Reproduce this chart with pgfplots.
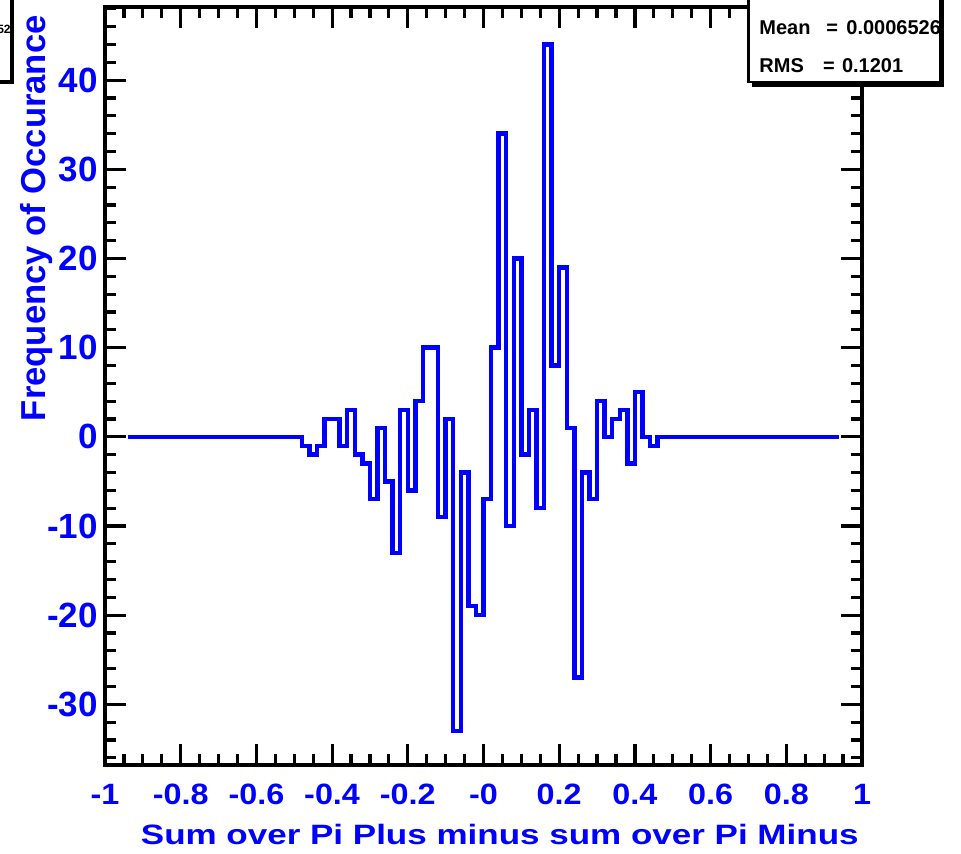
\documentclass[border=0pt]{standalone}
\usepackage{fontspec}
\setmainfont{Liberation Sans}
\newfontfamily\xlabfam[FakeStretch=1.25]{Liberation Sans}
\newfontfamily\xtickfam[FakeStretch=1.1]{Liberation Sans}
\usepackage{pgfplots}
\pgfplotsset{compat=1.18}
\usepackage{pgfplotstable}
\pgfplotstableread{
x y
-0.94 0
-0.92 0
-0.90 0
-0.88 0
-0.86 0
-0.84 0
-0.82 0
-0.80 0
-0.78 0
-0.76 0
-0.74 0
-0.72 0
-0.70 0
-0.68 0
-0.66 0
-0.64 0
-0.62 0
-0.60 0
-0.58 0
-0.56 0
-0.54 0
-0.52 0
-0.50 0
-0.48 -1
-0.46 -2
-0.44 -1
-0.42 2
-0.40 2
-0.38 -1
-0.36 3
-0.34 -2
-0.32 -3
-0.30 -7
-0.28 1
-0.26 -5
-0.24 -13
-0.22 3
-0.20 -6
-0.18 4
-0.16 10
-0.14 10
-0.12 -9
-0.10 2
-0.08 -33
-0.06 -4
-0.04 -19
-0.02 -20
0.00 -7
0.02 10
0.04 34
0.06 -10
0.08 20
0.10 -2
0.12 3
0.14 -8
0.16 44
0.18 8
0.20 19
0.22 1
0.24 -27
0.26 -4
0.28 -7
0.30 4
0.32 0
0.34 2
0.36 3
0.38 -3
0.40 5
0.42 0
0.44 -1
0.46 0
0.48 0
0.50 0
0.52 0
0.54 0
0.56 0
0.58 0
0.60 0
0.62 0
0.64 0
0.66 0
0.68 0
0.70 0
0.72 0
0.74 0
0.76 0
0.78 0
0.80 0
0.82 0
0.84 0
0.86 0
0.88 0
0.90 0
0.92 0
0.94 0
}\histdata
\definecolor{rootblue}{RGB}{0,0,255}
\newcommand\xtf{\xtickfam\bfseries\fontsize{14.7pt}{16pt}\selectfont}
\newcommand\ytf{\bfseries\fontsize{17.5pt}{19pt}\selectfont}
\begin{document}
\begin{tikzpicture}
\path[use as bounding box] (0,0) rectangle (480.5pt,427pt);
\clip (0,0) rectangle (480.5pt,427pt);
\begin{axis}[
  at={(52.5pt,44.5pt)}, anchor=south west,
  scale only axis, width=378.5pt, height=379pt,
  xmin=-1, xmax=1, ymin=-36.8, ymax=48.2,
  axis line style={line width=2pt, black},
  tick align=inside,
  major tick length=10.5pt, minor tick length=5.5pt,
  every tick/.style={black, line width=1.6pt},
  xtick={-1,-0.8,-0.6,-0.4,-0.2,0,0.2,0.4,0.6,0.8,1},
  xticklabels={-1,-0.8,-0.6,-0.4,-0.2,-0,0.2,0.4,0.6,0.8,1},
  minor xtick={-0.95,-0.9,-0.85,-0.75,-0.7,-0.65,-0.55,-0.5,-0.45,-0.35,-0.3,-0.25,-0.15,-0.1,-0.05,0.05,0.1,0.15,0.25,0.3,0.35,0.45,0.5,0.55,0.65,0.7,0.75,0.85,0.9,0.95},
  ytick={-30,-20,-10,0,10,20,30,40},
  yticklabels={-30,-20,-10,0,10,20,30,40},
  minor ytick={-36,-34,-32,-28,-26,-24,-22,-18,-16,-14,-12,-8,-6,-4,-2,2,4,6,8,12,14,16,18,22,24,26,28,32,34,36,38,42,44,46,48},
  xticklabel style={font=\xtf, text=rootblue, anchor=north, inner sep=0pt, yshift=-9.5pt},
  yticklabel style={font=\ytf, text=rootblue, anchor=east, inner sep=0pt, xshift=-3.5pt},
  axis on top,
]
\addplot[const plot mark left, rootblue, line width=2.2pt, line join=miter] table[x=x,y=y] {\histdata};
\end{axis}
% axis titles
\node[font=\xlabfam\bfseries\fontsize{14pt}{16pt}\selectfont, text=rootblue, anchor=base east, inner sep=0pt] at (429.5pt,4.5pt) {Sum over Pi Plus minus sum over Pi Minus};
\node[font=\bfseries\fontsize{17.3pt}{19pt}\selectfont, text=rootblue, anchor=base east, inner sep=0pt, rotate=90] at (22.5pt,419.5pt) {Frequency of Occurance};
% stats box
\fill[black] (376pt,383.5pt) rectangle (472pt,386pt);
\fill[black] (470pt,383.5pt) rectangle (472pt,430pt);
\filldraw[fill=white, draw=black, line width=1.1pt] (374.25pt,386pt) rectangle (470pt,430pt);
\begin{scope}[every node/.style={font=\bfseries\fontsize{10pt}{12pt}\selectfont, anchor=base west, inner sep=0pt}]
\node at (379.5pt,409.5pt) {Mean};
\node at (413pt,409.5pt) {=};
\node at (423pt,409.5pt) {0.0006526};
\node at (379.5pt,390.6pt) {RMS};
\node at (411.3pt,390.6pt) {=};
\node at (420.8pt,390.6pt) {0.1201};
\end{scope}
% partial box at top left
\draw[black, line width=2pt] (-10pt,385.75pt) -- (6pt,385.75pt) -- (6pt,440pt);
\node[font=\bfseries\fontsize{6pt}{7pt}\selectfont, anchor=base east, inner sep=0pt] at (5.5pt,410.3pt) {52};
\end{tikzpicture}
\end{document}
